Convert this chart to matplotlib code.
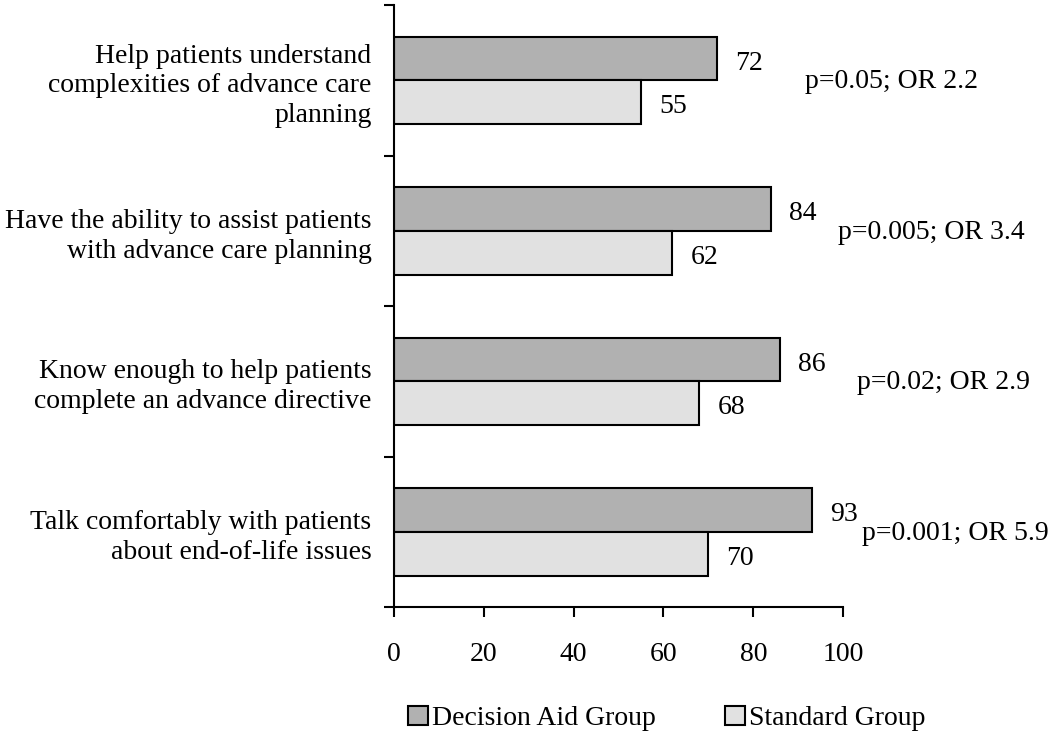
import matplotlib
matplotlib.use("Agg")
import matplotlib.pyplot as plt
import numpy as np

categories = [
    "Help patients understand\ncomplexities of advance care\nplanning",
    "Have the ability to assist patients\nwith advance care planning",
    "Know enough to help patients\ncomplete an advance directive",
    "Talk comfortably with patients\nabout end-of-life issues",
]
decision_aid = [72, 84, 86, 93]
standard = [55, 62, 68, 70]
stats = ["p=0.05; OR 2.2", "p=0.005; OR 3.4", "p=0.02; OR 2.9", "p=0.001; OR 5.9"]
stat_x = [91.5, 98.9, 103.1, 104.2]
xticks = [0, 20, 40, 60, 80, 100]

plt.rcParams['font.family'] = ['Liberation Serif', 'DejaVu Serif']
fs = 20

fig = plt.figure(figsize=(10.5, 7.37), dpi=100)
ax = fig.add_axes([0.375, 0.176, 0.428, 0.817])

y = np.arange(len(categories))
h = 0.29
dark = '#b1b1b1'
light = '#e1e1e1'
ax.barh(y - h/2, decision_aid, height=h, color=dark, edgecolor='black', linewidth=1.5, label='Decision Aid Group')
ax.barh(y + h/2, standard, height=h, color=light, edgecolor='black', linewidth=1.5, label='Standard Group')

for i in range(len(categories)):
    ax.text(decision_aid[i] + 4, y[i] - h/2 + 0.03, str(decision_aid[i]), va='center', ha='left', fontsize=fs)
    ax.text(standard[i] + 4, y[i] + h/2 + 0.03, str(standard[i]), va='center', ha='left', fontsize=fs)
    ax.text(stat_x[i], y[i] + 0.01, stats[i], va='center', ha='left', fontsize=fs, clip_on=False)

ax.set_ylim(3.5, -0.5)
ax.set_xlim(0, 100)
ax.set_yticks(y)
ax.set_yticklabels(categories, fontsize=fs, linespacing=1.25, ha='right')
ax.tick_params(axis='y', which='major', length=0, pad=16)
ax.set_yticks(np.arange(-0.5, 4.0, 1.0), minor=True)
ax.tick_params(axis='y', which='minor', length=7, width=1.5, direction='out')
ax.set_xticks(xticks)
ax.set_xticklabels([str(t) for t in xticks], fontsize=fs)
ax.tick_params(axis='x', length=7, width=1.5, direction='out', pad=18)

for s in ['top', 'right']:
    ax.spines[s].set_visible(False)
for s in ['left', 'bottom']:
    ax.spines[s].set_linewidth(1.5)

fig.legend(loc='center', bbox_to_anchor=(0.635, 0.025), ncol=2, frameon=False, fontsize=fs,
           handlelength=0.7, handleheight=0.7, handletextpad=0.15, columnspacing=2.5)

fig.savefig('out.png', dpi=100)
